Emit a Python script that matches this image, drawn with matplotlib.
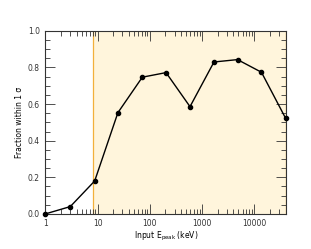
import matplotlib
matplotlib.use("Agg")
import matplotlib.pyplot as plt
from matplotlib.ticker import MultipleLocator, LogLocator, FixedLocator, NullFormatter

# data
epeak = [1, 3, 8.8, 24.5, 72, 205, 590, 1700, 4800, 13800, 40000]
frac = [0.0, 0.04, 0.18, 0.553, 0.747, 0.772, 0.586, 0.83, 0.843, 0.774, 0.523]
shade_lo, shade_hi = 8.3, 40000
xticks = [1, 10, 100, 1000, 10000]
xlabels = ["1", "10", "100", "1000", "10000"]

fig = plt.figure(figsize=(3.11, 2.49), dpi=100)
ax = fig.add_axes([0.146, 0.141, 0.774, 0.735])

ax.axvspan(shade_lo, shade_hi, color="#fff5dc", lw=0, zorder=0)
ax.axvline(shade_lo, color="#f2b03c", lw=0.9, zorder=1)
ax.axvline(shade_hi, color="#f2b03c", lw=0.9, zorder=1)

ax.plot(epeak, frac, color="black", lw=1.0, marker="o", ms=3, zorder=3, clip_on=False)

ax.set_xscale("log")
ax.set_xlim(1, 41000)
ax.set_ylim(0, 1)
ax.xaxis.set_major_locator(FixedLocator(xticks))
ax.set_xticklabels(xlabels)
ax.xaxis.set_minor_locator(LogLocator(base=10, subs=range(2, 10)))
ax.xaxis.set_minor_formatter(NullFormatter())
ax.yaxis.set_major_locator(MultipleLocator(0.2))
ax.yaxis.set_minor_locator(MultipleLocator(0.05))
ax.yaxis.set_major_formatter(plt.FuncFormatter(lambda v, p: "%.1f" % v))

ax.tick_params(which="both", direction="in", top=True, right=True,
               labelsize=5.5, colors="#333333", width=0.6)
ax.tick_params(which="major", length=7, pad=4)
ax.tick_params(which="minor", length=3.5)
for s in ax.spines.values():
    s.set_color("#333333")
    s.set_linewidth(0.8)

ax.set_xlabel("Input E$_{\\rm peak}$ (keV)", fontsize=5.5, labelpad=1)
ax.set_ylabel("Fraction within 1 σ", fontsize=5.5, labelpad=3)

fig.savefig("out.png", dpi=100)
